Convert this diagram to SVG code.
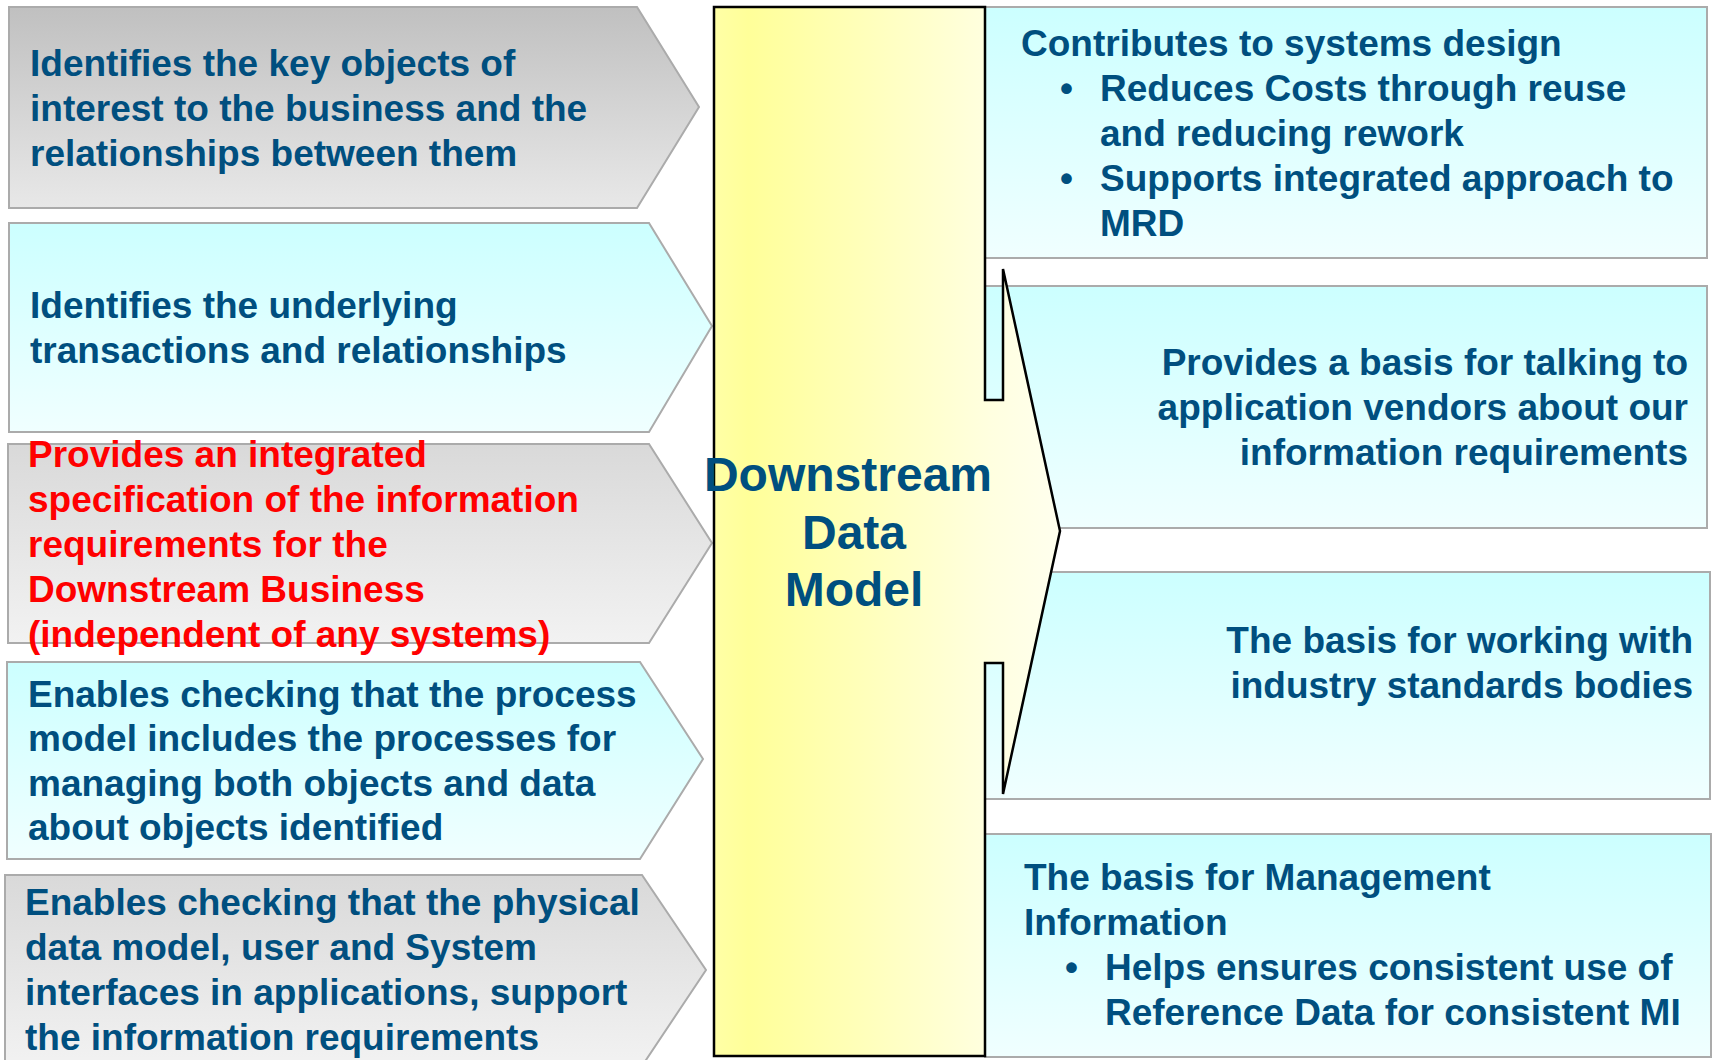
<svg xmlns="http://www.w3.org/2000/svg" width="1713" height="1060" viewBox="0 0 1713 1060">
<defs>
<linearGradient id="gGray1" x1="0" y1="0" x2="0" y2="1"><stop offset="0" stop-color="#c0c0c0"/><stop offset="1" stop-color="#e8e8e8"/></linearGradient>
<linearGradient id="gGray2" x1="0" y1="0" x2="0" y2="1"><stop offset="0" stop-color="#d9d9d9"/><stop offset="1" stop-color="#f2f2f2"/></linearGradient>
<linearGradient id="gCyan" x1="0" y1="0" x2="0" y2="1"><stop offset="0" stop-color="#ccffff"/><stop offset="1" stop-color="#f0ffff"/></linearGradient>
<linearGradient id="gYellow" gradientUnits="userSpaceOnUse" x1="714" y1="0" x2="1060" y2="0"><stop offset="0" stop-color="#ffffa6"/><stop offset="0.1" stop-color="#ffff99"/><stop offset="0.8" stop-color="#ffffe0"/><stop offset="1" stop-color="#ffffee"/></linearGradient>
<style>
.box{stroke:#ababab;stroke-width:2}
.t{font-family:"Liberation Sans",Arial,sans-serif;font-weight:bold;font-size:37px;fill:#004f7f}
.red{fill:#ff0000}
.r{text-anchor:end}
.c{font-size:48px;text-anchor:middle}
</style>
</defs>
<rect width="1713" height="1060" fill="#ffffff"/>

<g id="left1">
<polygon class="box" fill="url(#gGray1)" points="9,7 637,7 699,107 637,208 9,208"/>
<text class="t"><tspan x="30" y="76">Identifies the key objects of</tspan><tspan x="30" y="121">interest to the business and the</tspan><tspan x="30" y="166">relationships between them</tspan></text>
</g>
<g id="left2">
<polygon class="box" fill="url(#gCyan)" points="9,223 649,223 712,326 649,432 9,432"/>
<text class="t"><tspan x="30" y="318">Identifies the underlying</tspan><tspan x="30" y="363">transactions and relationships</tspan></text>
</g>
<g id="left3">
<polygon class="box" fill="url(#gGray2)" points="8,444 649,444 712,543 649,643 8,643"/>
<text class="t red"><tspan x="28" y="467">Provides an integrated</tspan><tspan x="28" y="512">specification of the information</tspan><tspan x="28" y="557">requirements for the</tspan><tspan x="28" y="602">Downstream Business</tspan><tspan x="28" y="647">(independent of any systems)</tspan></text>
</g>
<g id="left4">
<polygon class="box" fill="url(#gCyan)" points="7,662 640,662 703,759 640,859 7,859"/>
<text class="t"><tspan x="28" y="707">Enables checking that the process</tspan><tspan x="28" y="751">model includes the processes for</tspan><tspan x="28" y="796">managing both objects and data</tspan><tspan x="28" y="840">about objects identified</tspan></text>
</g>
<g id="left5">
<polygon class="box" fill="url(#gGray2)" points="5,875 642,875 706,970 642,1066 5,1066"/>
<text class="t"><tspan x="25" y="915">Enables checking that the physical</tspan><tspan x="25" y="960">data model, user and System</tspan><tspan x="25" y="1005">interfaces in applications, support</tspan><tspan x="25" y="1050">the information requirements</tspan></text>
</g>

<g id="right1">
<rect class="box" fill="url(#gCyan)" x="985" y="7" width="722" height="251"/>
<text class="t"><tspan x="1021" y="56">Contributes to systems design</tspan><tspan x="1060" y="101">•</tspan><tspan x="1100" y="101">Reduces Costs through reuse</tspan><tspan x="1100" y="146">and reducing rework</tspan><tspan x="1060" y="191">•</tspan><tspan x="1100" y="191">Supports integrated approach to</tspan><tspan x="1100" y="236">MRD</tspan></text>
</g>
<g id="right2">
<rect class="box" fill="url(#gCyan)" x="985" y="286" width="722" height="242"/>
<text class="t r"><tspan x="1688" y="375">Provides a basis for talking to</tspan><tspan x="1688" y="420">application vendors about our</tspan><tspan x="1688" y="465">information requirements</tspan></text>
</g>
<g id="right3">
<rect class="box" fill="url(#gCyan)" x="985" y="572" width="725" height="227"/>
<text class="t r"><tspan x="1693" y="653">The basis for working with</tspan><tspan x="1693" y="698">industry standards bodies</tspan></text>
</g>
<g id="right4">
<rect class="box" fill="url(#gCyan)" x="985" y="834" width="726" height="223"/>
<text class="t"><tspan x="1024" y="890">The basis for Management</tspan><tspan x="1024" y="935">Information</tspan><tspan x="1065" y="980">•</tspan><tspan x="1105" y="980">Helps ensures consistent use of</tspan><tspan x="1105" y="1025">Reference Data for consistent MI</tspan></text>
</g>

<g id="center">
<path d="M714,7 H985 V400 H1003 V269 L1060,531 L1003,794 V663 H985 V1056 H714 Z" fill="url(#gYellow)" stroke="#000000" stroke-width="2.5" stroke-linejoin="miter"/>
<text class="t c"><tspan x="848" y="491">Downstream</tspan><tspan x="854" y="549">Data</tspan><tspan x="854" y="606">Model</tspan></text>
</g>

<g id="connectors"></g>
</svg>
